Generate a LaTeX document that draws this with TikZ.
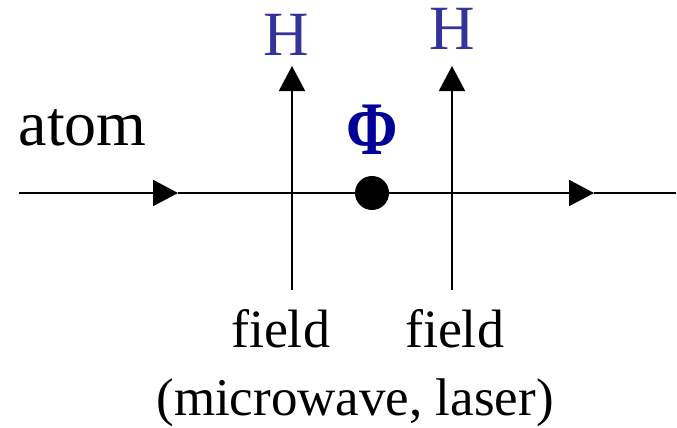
\documentclass[tikz,border=0pt]{standalone}
\usepackage{fontspec}
\setmainfont{Liberation Serif}
\usetikzlibrary{arrows.meta,positioning}
\definecolor{hblue}{RGB}{51,51,153}
\definecolor{phiblue}{RGB}{0,0,153}
\newcommand\Ybeam{193}
\tikzset{
  beam/.style={
    line width = 2pt
  },
  beamtip/.style={
    -{Triangle[length=25pt,width=26pt]}
  },
  atomdot/.style={
    inner sep = 0pt,
    minimum size = 34pt,
    shape = circle,
    fill
  },
  hlabel/.style={
    anchor = base,
    inner sep = 0pt,
    text = hblue,
    font = \fontsize{63}{70}\selectfont
  },
  philabel/.style={
    anchor = base,
    inner sep = 0pt,
    text = phiblue,
    font = \fontsize{62}{70}\selectfont\bfseries
  },
  lbl/.style={
    anchor = base,
    inner sep = 0pt,
    font = \fontsize{54}{60}\selectfont
  }
}
\begin{document}
\begin{tikzpicture}[x=1pt,y=-1pt]
    \useasboundingbox (0,0) rectangle (677,428);

    % atom beam
    \coordinate (start) at (19,\Ybeam);
    \coordinate (tipA) at (178,\Ybeam);
    \coordinate (tipB) at (594,\Ybeam);
    \coordinate (stop) at (676,\Ybeam);
    \draw[beam,beamtip] (start) -- (tipA);
    \draw[beam,beamtip] (tipA) -- (tipB);
    \draw[beam] (tipB) -- (stop);

    % the two fields
    \coordinate (fieldAbot) at (292,290);
    \coordinate (fieldAtop) at (292,66);
    \coordinate (fieldBbot) at (452,290);
    \coordinate (fieldBtop) at (452,66);
    \draw[beam,beamtip] (fieldAbot) -- (fieldAtop);
    \draw[beam,beamtip] (fieldBbot) -- (fieldBtop);

    \node[hlabel] (hA) at (286.5,56) {H};
    \node[hlabel] (hB) at (452,49) {H};

    % phase
    \node[atomdot] (dot) at (372,\Ybeam) {};
    \node[philabel] (phi) at (372.5,154) {\scalebox{1}[1.22]{Φ}};

    \node[lbl, anchor=base west, font=\fontsize{64}{70}\selectfont] (atom) at (18.5,145) {atom};
    \node[lbl] (fieldA) at (280.5,347) {field};
    \node[lbl] (fieldB) at (454.5,347) {field};
    \node[lbl, font=\fontsize{53}{60}\selectfont] (kinds) at (355,415.5) {(microwave, laser)};
\end{tikzpicture}
\end{document}
